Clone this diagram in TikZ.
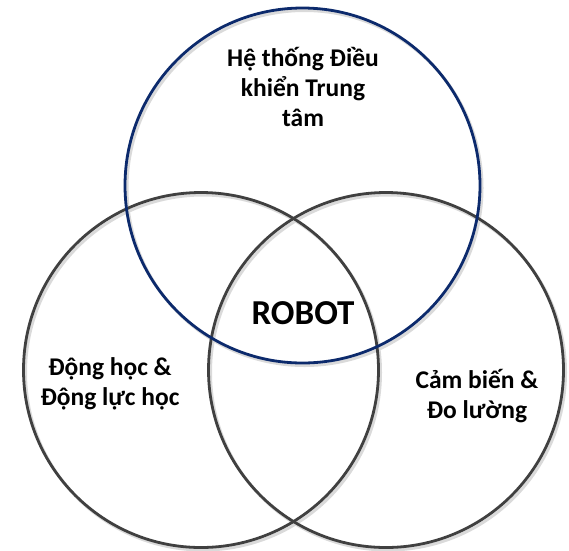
\documentclass[tikz,border=0pt]{standalone}
\usepackage{fontspec}
\setmainfont{Carlito}
\definecolor{ringgray}{HTML}{404040}
\definecolor{ringnavy}{HTML}{0C2A6C}
\definecolor{shadowgray}{HTML}{DADADA}
\tikzset{
  ring/.style={line width=2.8pt, draw=ringgray},
  topring/.style={line width=2.8pt, draw=ringnavy},
  ringshadow/.style={line width=3pt, draw=shadowgray},
  label/.style={font=\bfseries\fontsize{25.5}{30}\selectfont, align=center, text=black},
}
\begin{document}
\begin{tikzpicture}[x=1pt,y=-1pt]
\useasboundingbox (0,0) rectangle (569,550);

\coordinate (T) at (302.5,185.5);
\coordinate (L) at (201,370);
\coordinate (R) at (386,370);

% soft shadows
\foreach \c in {L,R,T}
  \draw[ringshadow] ([shift={(2,2.5)}]\c) circle (177.5);

\draw[ring] (L) circle (177.5);
\draw[ring] (R) circle (177.5);
\draw[topring] (T) circle (177.5);

\node[label] (ctrl) at (303,87) {Hệ thống Điều\\khiển Trung\\tâm};
\node[label, font=\bfseries\fontsize{35}{40}\selectfont] (robot) at (303,313) {ROBOT};
\node[label] (dyn) at (110,384) {Động học \&\\Động lực học};
\node[label] (sens) at (477,396) {Cảm biến \&\\Đo lường};
\end{tikzpicture}
\end{document}
